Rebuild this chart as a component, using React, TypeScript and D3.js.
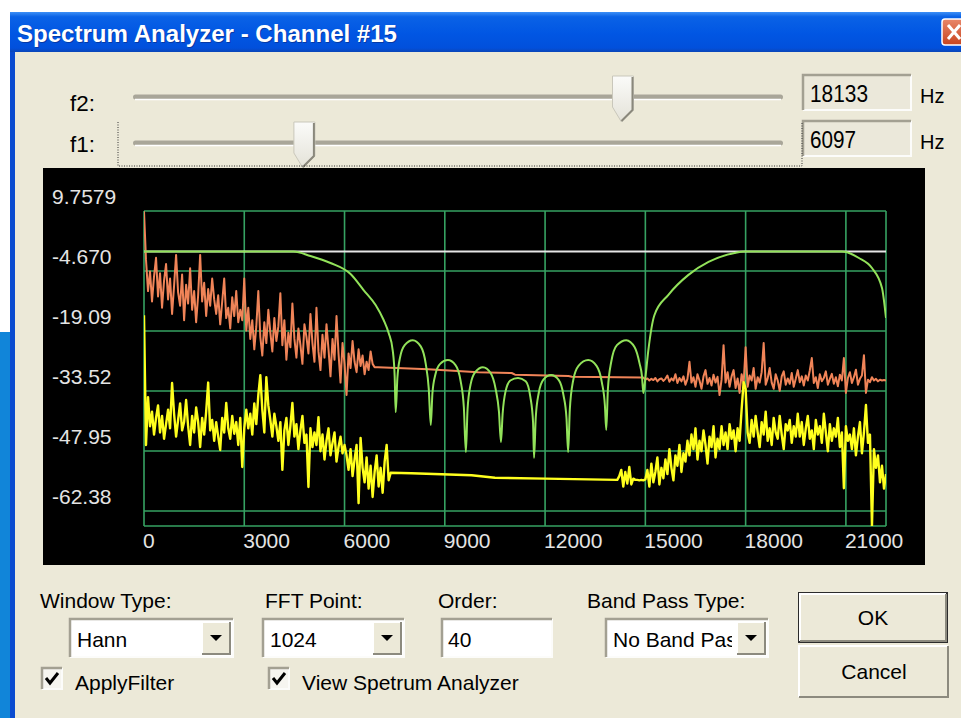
import * as React from 'react';
import * as d3 from 'd3';

// ---- chart data -------------------------------------------------------
const freqTicks = [0, 3000, 6000, 9000, 12000, 15000, 18000, 21000];
const levelTicks = [9.7579, -4.67, -19.0979, -33.5258, -47.9537, -62.3816];
const levelLabels = ['9.7579', '-4.670', '-19.09', '-33.52', '-47.95', '-62.38'];
const binHz = 60; // spacing of the plotted FFT bins
const passbandLevel = 0; // white reference line (dB)

// orange trace (input spectrum), dB
const inputLowStart = 0;
const inputLow = [
  9.7,
  -2.0, -9.5, -4.8, -12.0, -6.0, -1.5, -10.8, -5.2, -13.5, -7.0,
  -3.0, -11.5, -6.5, -15.0, -8.2, -0.8, -9.8, -13.0, -5.5, -16.5,
  -8.0, -12.5, -4.0, -14.0, -9.5, -17.0, -10.5, -0.8, -12.0, -7.5, -15.5, -9.0, -13.0, -6.5, -11.5,
  -15.0, -10.5, -17.5, -12.0, -6.5, -16.0, -13.5, -18.5, -11.0, -15.5, -9.5, -17.0, -14.0, -16.5, -6.5,
  -19.0, -13.5, -21.0, -16.5, -23.5, -18.0, -9.5, -20.5, -25.0, -17.0, -22.0, -14.0, -19.5, -24.0, -16.0, -21.5,
  -18.0, -10.0, -22.5, -16.5, -26.0, -19.5, -23.0, -12.5, -21.0, -25.5, -18.5, -22.5, -27.0, -17.5, -20.5, -24.5, -15.0,
  -22.0, -26.5, -13.5, -24.0, -28.5, -20.0, -25.5, -17.5, -23.5, -30.0, -21.0, -26.0, -15.5, -24.5, -31.5, -22.0, -27.0,
  -34.5, -24.5, -28.0, -21.5, -26.5, -29.0, -23.5, -27.5, -25.0, -29.5, -26.5, -28.5, -24.0, -27.0, -27.8,
];
const inputStop: [number, number][] = [
  [7000, -27.8], [8500, -28.3], [10000, -29.0], [11000, -29.2], [11100, -29.6],
  [12700, -29.9], [12800, -30.1], [14880, -30.3],
];
const inputHighStart = 14940;
const inputHigh = [
  -30.3, -30.8, -30.5, -31.0, -30.6, -30.9, -30.4, -31.2, -30.7, -30.5, -31.1, -30.6, -29.8, -31.3, -30.5, -31.0, -29.5, -31.6, -30.4, -31.2,
  -30.0, -32.0, -30.6, -26.5, -31.5, -30.2, -32.5, -29.5, -31.0, -33.0, -30.0, -28.5, -31.8, -30.4, -32.2, -29.6, -31.5, -30.1, -34.5, -30.8,
  -22.5, -31.5, -29.0, -32.5, -30.0, -28.5, -32.8, -30.5, -34.0, -29.5, -31.8, -23.0, -32.5, -29.8, -31.0, -28.0, -33.0, -30.2, -31.5, -29.0,
  -22.0, -32.0, -30.5, -28.0, -31.5, -33.0, -29.5, -31.0, -33.5, -30.0, -28.8, -32.0, -30.5, -31.8, -29.2, -32.5, -30.6, -28.5, -31.4, -30.0,
  -32.2, -29.8, -31.0, -28.6, -25.6, -31.6, -30.2, -32.8, -29.5, -31.2, -30.4, -28.8, -32.0, -30.6, -29.4, -31.8, -30.2, -32.4, -29.6, -31.0,
  -25.6, -34.0, -30.4, -29.0, -31.6, -30.2, -28.4, -32.0, -30.6, -29.8, -24.9, -34.0, -30.8, -31.4, -30.2, -31.0, -30.6, -31.2, -30.8, -31.0, -30.9, -31.0,
];

// yellow trace (filtered spectrum), dB
const outputLowStart = 0;
const outputLow = [
  -15.3, -46.5,
  -35.0, -42.0, -38.5, -44.0, -40.0, -37.0, -43.5, -39.5, -45.0,
  -41.5, -38.0, -42.5, -31.6, -39.0, -44.5, -40.5, -36.5, -43.0, -41.0,
  -35.7, -42.0, -46.5, -39.5, -43.5, -37.5, -41.0, -47.0, -40.0, -44.0, -38.5, -31.5, -43.0, -40.5, -45.5,
  -41.0, -44.5, -47.7, -40.0, -43.5, -36.4, -42.5, -45.0, -39.5, -43.8, -41.0, -46.5, -40.0, -51.8, -42.5,
  -38.0, -42.5, -39.0, -44.0, -36.5, -41.5, -34.5, -29.7, -38.0, -43.5, -30.2, -37.0, -40.5, -44.5, -39.0, -42.0,
  -45.5, -41.0, -52.5, -43.0, -40.0, -46.5, -42.0, -36.4, -44.5, -41.5, -47.5, -43.0, -39.5, -46.0, -44.0, -56.6, -42.5,
  -47.0, -43.5, -46.5, -39.8, -48.0, -44.0, -50.0, -45.5, -42.5, -49.0, -46.0, -43.5, -50.5, -47.0, -44.5, -48.5, -46.5,
  -49.0, -52.5, -47.5, -54.0, -50.0, -46.5, -60.5, -44.8, -52.0, -55.5, -49.5, -57.0, -51.5, -59.0, -53.0, -49.0, -56.5, -52.0, -58.0, -50.5, -46.5, -55.0, -53.2,
];
const outputStop: [number, number][] = [
  [8000, -53.3], [9800, -53.8], [10500, -54.4], [12000, -54.6], [14160, -54.9],
];
const outputHighStart = 14220;
const outputHigh = [
  -54.0, -52.5, -56.5, -53.0, -55.8, -51.8, -56.0, -54.6,
  -54.9, -54.9, -55.0, -54.9, -55.0, -54.8,
  -52.5, -56.5, -51.0, -55.5, -53.0, -49.5, -56.0, -52.0, -54.5, -50.0, -53.5, -47.5, -52.0, -55.0, -49.0, -51.5, -46.5, -53.0, -48.5, -50.5, -45.5,
  -49.0, -44.0, -47.5, -42.5, -50.0, -45.5, -48.0, -43.0, -46.5, -51.0, -44.5, -47.0, -42.0, -49.5, -45.0, -47.5,
  -42.0, -46.5, -43.5, -47.5, -41.5, -45.0, -43.0, -48.0, -42.5, -45.5, -38.0, -31.4, -33.0, -43.5,
  -46.0, -40.5, -44.5, -39.5, -43.5, -47.0, -41.0, -44.0, -38.5, -45.5, -42.5, -46.5, -40.0, -43.5, -45.0, -39.5, -44.0, -47.5, -41.5, -43.0, -40.5, -46.0, -42.0, -44.5, -39.0,
  -44.5, -41.0, -46.5, -42.5, -39.5, -45.0, -43.0, -47.5, -40.5, -44.0, -42.0, -46.0, -39.0, -43.5, -48.0, -41.5, -45.5, -42.5, -44.5, -40.0, -47.0, -43.5, -56.9, -42.0, -45.5,
  -44.0, -47.5, -42.5, -49.0, -44.5, -41.0, -48.5, -43.5, -36.9,
  -46.0, -44.0, -66.0, -47.5, -52.0, -49.0, -55.5, -51.5, -57.0, -53.5,
];

// green trace (band-stop filter response), [Hz, dB]
const filterResponse: [number, number][] = [
  [0, 0], [4470, 0], [4980, -1.06], [5580, -2.75], [6180, -5.39], [6570, -9.24], [6930, -12.85],
  [7170, -16.45], [7320, -19.58], [7440, -23.67], [7500, -30.0], [7530, -38.6],
  [7580, -30.5], [7660, -25.5], [7800, -22.5], [8040, -21.3], [8280, -22.8], [8430, -27.0], [8520, -33.0], [8580, -41.7],
  [8630, -34.0], [8720, -29.5], [8860, -27.0], [9090, -26.1], [9320, -27.3], [9470, -31.0], [9570, -37.5], [9630, -48.2],
  [9680, -38.0], [9770, -32.0], [9910, -29.0], [10140, -27.8], [10370, -29.2], [10520, -33.0], [10620, -38.5], [10680, -45.8],
  [10730, -39.0], [10820, -33.5], [10960, -31.0], [11190, -30.4], [11420, -31.2], [11560, -35.0], [11640, -41.0], [11670, -49.6],
  [11720, -40.0], [11810, -34.0], [11950, -30.8], [12180, -29.7], [12410, -30.9], [12550, -34.5], [12640, -40.0], [12690, -48.2],
  [12740, -38.0], [12840, -31.0], [13000, -27.5], [13290, -26.1], [13540, -27.5], [13700, -31.5], [13790, -37.0], [13830, -42.9],
  [13880, -33.0], [13980, -26.5], [14150, -22.5], [14430, -21.3], [14680, -23.0], [14830, -27.0], [14900, -30.0], [14940, -34.0],
  [15000, -30.4], [15090, -23.7], [15270, -15.3], [15690, -10.4], [16290, -5.6], [16890, -2.5], [17670, -0.34], [17970, 0],
  [20880, 0], [21390, -1.54], [21780, -3.95], [22080, -8.76], [22200, -15.97],
];

// dialog controls
const sliderNames = ['f2:', 'f1:'];
const sliderHz = [18133, 6097];

const ui = "'Liberation Sans', Arial, sans-serif";
const face = '#ECE9D8';

const bins = (start: number, vals: number[]): [number, number][] =>
  vals.map((v, i) => [start + i * binHz, v] as [number, number]);

function Sunken({ x, y, w, h, fill }: any) {
  return (
    <g>
      <rect x={x} y={y} width={w} height={h} fill={fill} />
      <path d={`M${x + w},${y}V${y + h}H${x}`} stroke="#fcfcfa" strokeWidth={2} fill="none" />
      <path d={`M${x},${y + h}V${y}H${x + w}`} stroke="#a3a092" strokeWidth={2.5} fill="none" />
    </g>
  );
}

function Raised({ x, y, w, h }: any) {
  return (
    <g>
      <rect x={x} y={y} width={w} height={h} fill={face} />
      <path d={`M${x},${y + h}V${y}H${x + w}`} stroke="#ffffff" strokeWidth={2} fill="none" />
      <path d={`M${x + w},${y}V${y + h}H${x}`} stroke="#8c8a7e" strokeWidth={2} fill="none" />
    </g>
  );
}

function Combo({ id, x, y, w, h, text }: any) {
  const bx = x + w - 31;
  const cy = y + h / 2;
  return (
    <g>
      <Sunken x={x} y={y} w={w} h={h} fill="#ffffff" />
      <clipPath id={id}>
        <rect x={x + 2} y={y} width={w - 38} height={h} />
      </clipPath>
      <text x={x + 7} y={y + 28} fontFamily={ui} fontSize={21} fill="#000" clipPath={`url(#${id})`}>
        {text}
      </text>
      <Raised x={bx} y={y + 3} w={28} h={h - 6} />
      <path d={`M${bx + 8},${cy - 3}h12l-6,6z`} fill="#000" />
    </g>
  );
}

function Check({ x, y, label }: any) {
  return (
    <g>
      <Sunken x={x} y={y} w={20} h={21} fill="#f6f5f0" />
      <path d={`M${x + 4},${y + 10}l4,5l8,-10`} stroke="#000" strokeWidth={3} fill="none" />
      <text x={x + 33} y={y + 22} fontFamily={ui} fontSize={21} fill="#000">{label}</text>
    </g>
  );
}

function Thumb({ cx, cy }: any) {
  const l = cx - 10.5, r = cx + 10.5;
  const d = `M${l},${cy - 21}H${r}V${cy + 13}L${cx - 1.5},${cy + 25}L${l},${cy + 10}Z`;
  return (
    <g>
      <path d={d} fill="url(#thumbFill)" stroke="#c9c7bb" strokeWidth={1} />
      <path d={`M${r - 1},${cy - 20}V${cy + 13}L${cx - 1.5},${cy + 24}`} stroke="#8a887c" strokeWidth={2} fill="none" />
    </g>
  );
}

export default function App() {
  const x = d3.scaleLinear().domain([0, 22200]).range([144, 886]);
  const y = d3.scaleLinear().domain([levelTicks[0], levelTicks[levelTicks.length - 1]]).range([211, 511]);
  const plotBottom = 526;
  const slider = d3.scaleLinear().domain([0, 23800]).range([143, 773]);

  const line = d3.line<[number, number]>().x((d) => x(d[0])).y((d) => y(d[1]));
  const smooth = d3
    .line<[number, number]>()
    .x((d) => x(d[0]))
    .y((d) => y(d[1]))
    .curve(d3.curveMonotoneX);

  const inputSeries = [...bins(inputLowStart, inputLow), ...inputStop, ...bins(inputHighStart, inputHigh)];
  const outputSeries = [...bins(outputLowStart, outputLow), ...outputStop, ...bins(outputHighStart, outputHigh)];

  const [x0, x1] = x.range();
  const grid = '#36a262';
  const trackY = [97, 143];

  return (
    <svg width={961} height={718} style={{ position: 'absolute', left: 0, top: 0, display: 'block' }}>
      <defs>
        <linearGradient id="titleFill" x1="0" y1="0" x2="0" y2="1">
          <stop offset="0" stopColor="#3d8ff6" />
          <stop offset="0.12" stopColor="#0a62e6" />
          <stop offset="0.55" stopColor="#0156e3" />
          <stop offset="0.9" stopColor="#0150dc" />
          <stop offset="1" stopColor="#0b46b8" />
        </linearGradient>
        <linearGradient id="thumbFill" x1="0" y1="0" x2="0" y2="1">
          <stop offset="0" stopColor="#fbfbf9" />
          <stop offset="1" stopColor="#e4e2d8" />
        </linearGradient>
        <linearGradient id="closeFill" x1="0" y1="0" x2="0" y2="1">
          <stop offset="0" stopColor="#e9876a" />
          <stop offset="1" stopColor="#c8441e" />
        </linearGradient>
        <clipPath id="plotClip">
          <rect x={x0} y={y(levelTicks[0]) - 2} width={x1 - x0} height={plotBottom - y(levelTicks[0]) + 2} />
        </clipPath>
      </defs>

      {/* surrounding desktop / window frame */}
      <rect x={0} y={0} width={961} height={718} fill="#ffffff" />
      <rect x={0} y={332} width={10} height={386} fill="#1185d9" />
      <rect x={10} y={12} width={5} height={706} fill="#0a4bd0" />
      <rect x={15} y={52} width={946} height={666} fill={face} />

      {/* title bar */}
      <rect x={10} y={12} width={951} height={40} fill="url(#titleFill)" />
      <text x={17} y={42} fontFamily={ui} fontWeight="bold" fontSize={23} fill="#0a2a80" opacity={0.6} textLength={380} lengthAdjust="spacingAndGlyphs" dx={1} dy={1}>
        Spectrum Analyzer - Channel #15
      </text>
      <text x={17} y={42} fontFamily={ui} fontWeight="bold" fontSize={23} fill="#ffffff" textLength={380} lengthAdjust="spacingAndGlyphs">
        Spectrum Analyzer - Channel #15
      </text>
      <rect x={942} y={19} width={26} height={26} rx={3} fill="url(#closeFill)" stroke="#ffffff" strokeWidth={1.5} />
      <path d="M948,25L960,39M960,25L948,39" stroke="#ffffff" strokeWidth={3} />

      {/* frequency sliders */}
      {sliderNames.map((name, i) => (
        <g key={name}>
          <text x={70} y={trackY[i] + (i === 0 ? 14 : 9)} fontFamily={ui} fontSize={22} fill="#000" textLength={25} lengthAdjust="spacingAndGlyphs">{name}</text>
          <rect x={133} y={trackY[i] - 2.5} width={650} height={5} rx={2.5} fill="#a9a699" />
          <line x1={135} x2={781} y1={trackY[i] + 2.5} y2={trackY[i] + 2.5} stroke="#ffffff" strokeWidth={1.5} />
          <Thumb cx={slider(sliderHz[i])} cy={trackY[i]} />
          <Sunken x={803} y={trackY[i] - 22} w={108} h={35} fill="#ebe8da" />
          <text x={810} y={trackY[i] + 5} fontFamily={ui} fontSize={24} fill="#000" textLength={i === 0 ? 58 : 46} lengthAdjust="spacingAndGlyphs">
            {String(sliderHz[i])}
          </text>
          <text x={920} y={trackY[i] + 6} fontFamily={ui} fontSize={20} fill="#000">Hz</text>
        </g>
      ))}
      <path d="M118,122V166H802V122" stroke="#333" strokeWidth={1} strokeDasharray="1,1.5" fill="none" />

      {/* spectrum panel */}
      <rect x={43} y={168} width={882} height={397} fill="#000000" />

      {levelTicks.map((v) => (
        <line key={'h' + v} x1={x0} x2={x1} y1={y(v)} y2={y(v)} stroke={grid} strokeWidth={1.6} />
      ))}
      <line x1={x0} x2={x1} y1={plotBottom} y2={plotBottom} stroke={grid} strokeWidth={1.6} />
      {freqTicks.map((f) => (
        <line key={'v' + f} x1={x(f)} x2={x(f)} y1={y(levelTicks[0])} y2={plotBottom} stroke={grid} strokeWidth={1.6} />
      ))}
      <line x1={x1} x2={x1} y1={y(levelTicks[0])} y2={plotBottom} stroke={grid} strokeWidth={1.6} />

      {levelTicks.map((v, i) => (
        <text key={'yl' + v} x={52} y={y(v) - 7} fontFamily={ui} fontSize={21} fill="#e4e4e4">
          {levelLabels[i]}
        </text>
      ))}
      {freqTicks.map((f) => (
        <text key={'xl' + f} x={x(f) - 1} y={548} fontFamily={ui} fontSize={21} fill="#e4e4e4">
          {String(f)}
        </text>
      ))}

      <g clipPath="url(#plotClip)">
        <line x1={x0} x2={x1} y1={y(passbandLevel)} y2={y(passbandLevel)} stroke="#e6e6e6" strokeWidth={2} />
        <path d={line(inputSeries) || ''} fill="none" stroke="#f08458" strokeWidth={2} strokeLinejoin="round" />
        <path d={line(outputSeries) || ''} fill="none" stroke="#ffff1e" strokeWidth={2.4} strokeLinejoin="round" />
        <path d={smooth(filterResponse) || ''} fill="none" stroke="#92e25a" strokeWidth={2} />
      </g>

      {/* bottom controls */}
      <text x={40} y={608} fontFamily={ui} fontSize={21} fill="#000">Window Type:</text>
      <text x={265} y={608} fontFamily={ui} fontSize={21} fill="#000">FFT Point:</text>
      <text x={438} y={608} fontFamily={ui} fontSize={21} fill="#000">Order:</text>
      <text x={587} y={608} fontFamily={ui} fontSize={21} fill="#000">Band Pass Type:</text>

      <Combo id="cWin" x={70} y={619} w={163} h={38} text="Hann" />
      <Combo id="cFft" x={263} y={619} w={141} h={38} text="1024" />
      <Sunken x={442} y={619} w={110} h={38} fill="#ffffff" />
      <text x={448} y={647} fontFamily={ui} fontSize={21} fill="#000">40</text>
      <Combo id="cBand" x={606} y={619} w={162} h={38} text="No Band Pass" />

      <Check x={42} y={668} label="ApplyFilter" />
      <Check x={269} y={668} label="View Spetrum Analyzer" />

      <rect x={798} y={592} width={150} height={51} fill="#2b2b2b" />
      <Raised x={800} y={594} w={146} h={47} />
      <text x={873} y={625} textAnchor="middle" fontFamily={ui} fontSize={21} fill="#000">OK</text>
      <Raised x={799} y={646} w={149} h={51} />
      <text x={874} y={679} textAnchor="middle" fontFamily={ui} fontSize={21} fill="#000">Cancel</text>
    </svg>
  );
}
